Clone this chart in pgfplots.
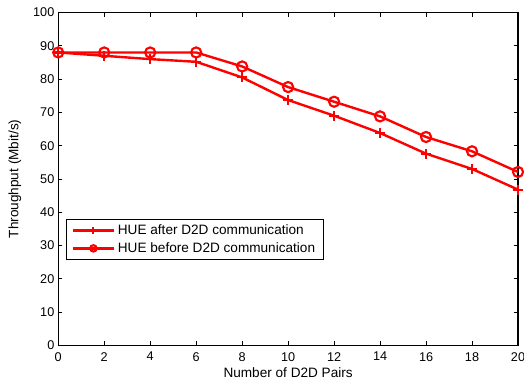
\documentclass[border=0pt]{standalone}
\usepackage{pgfplots}
\pgfplotsset{compat=1.18}
\usepackage{fontspec}
\setmainfont{Liberation Sans}
\begin{document}
\fontsize{10}{12}\selectfont
\begin{tikzpicture}
\begin{axis}[
  scale only axis,
  width=345pt, height=249.75pt,
  xmin=0, xmax=20, ymin=0, ymax=100,
  xtick={0,2,...,20}, ytick={0,10,...,100},
  tick align=inside, tick pos=both,
  major tick length=3pt,
  axis line style={line width=0.8pt},
  tick style={line width=0.6pt, black},
  /pgf/number format/assume math mode=true,
  ticklabel style={font=\fontsize{9.5}{11}\selectfont},
  xticklabel style={yshift=-1.6pt},
  yticklabel style={xshift=0.6pt},
  label style={font=\fontsize{10.2}{12}\selectfont},
  xlabel={Number of D2D Pairs},
  ylabel={Throughput (Mbit/s)},
  xlabel style={at={(axis description cs:0.5,-0.0955)}, anchor=base},
  ylabel style={at={(axis description cs:-0.0945,0.5)}, anchor=center},
  legend style={at={(0.0165,0.38)}, anchor=north west, draw=black, line width=0.6pt,
    font=\fontsize{10.2}{12}\selectfont, inner xsep=4pt, inner ysep=2pt, row sep=0.5pt,
    legend cell align=left},
  legend image code/.code={%
    \draw[mark repeat=2,mark phase=2,#1, mark size=2.4pt] plot coordinates {(0pt,0pt) (15.5pt,0pt) (31pt,0pt)};},
  clip=false,
]
\addplot[red, line width=1.8pt, mark=+, mark size=3.7pt, mark options={line width=1.6pt}] coordinates {
(0,88) (2,87) (4,86) (6,85.2) (8,80.5) (10,73.7) (12,69.0) (14,63.8) (16,57.6) (18,53.0) (20,46.8)
};
\addlegendentry{HUE after D2D communication}
\addplot[red, line width=1.8pt, mark=o, mark size=3.8pt, mark options={line width=1.6pt}] coordinates {
(0,88) (2,88) (4,88) (6,88) (8,83.8) (10,77.6) (12,73.2) (14,68.8) (16,62.6) (18,58.3) (20,52.1)
};
\addlegendentry{HUE before D2D communication}
\end{axis}
\pgfresetboundingbox
\path[use as bounding box] ([xshift=-43.7pt,yshift=-29.5pt]current axis.south west) rectangle ([xshift=4.5pt,yshift=9.4pt]current axis.north east);
\end{tikzpicture}
\end{document}
